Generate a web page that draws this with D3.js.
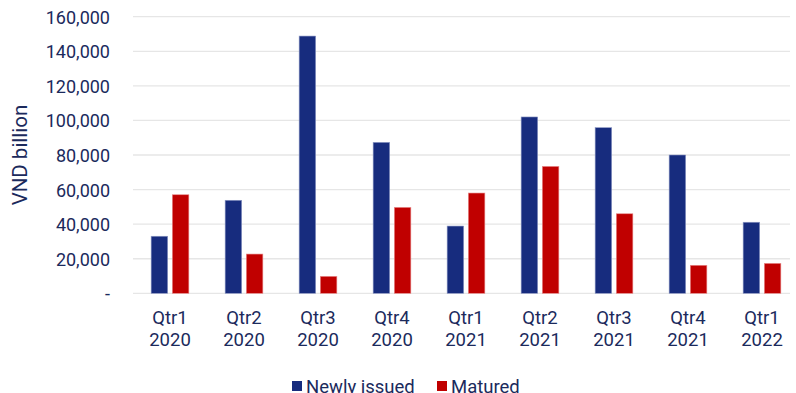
<!DOCTYPE html>
<html>
<head>
<meta charset="utf-8">
<script src="https://cdn.jsdelivr.net/npm/d3@7/dist/d3.min.js"></script>
<style>
  html, body { margin: 0; padding: 0; background: #fff; }
  svg { display: block; font-family: Roboto, "Noto Sans", sans-serif; }
</style>
</head>
<body>
<div id="chart"></div>
<script>
// Quarterly bond issuance vs. maturities (VND billion)
const quarters = ["Qtr1", "Qtr2", "Qtr3", "Qtr4", "Qtr1", "Qtr2", "Qtr3", "Qtr4", "Qtr1"];
const years    = ["2020", "2020", "2020", "2020", "2021", "2021", "2021", "2021", "2022"];
const newlyIssued = [33000, 53800, 148800, 87300, 38900, 102000, 95800, 80000, 41100];
const matured     = [57000, 22700, 9800, 49700, 58000, 73400, 46000, 16200, 17300];
const seriesNames = ["Newly issued", "Matured"];
const seriesColors = ["#172C7E", "#C00000"];
const yTicks = [0, 20000, 40000, 60000, 80000, 100000, 120000, 140000, 160000];

const W = 796, H = 393;
const margin = { left: 133, right: -3, top: 16.7, bottom: 99.7 };
const textColor = "#1B2A5C";

const svg = d3.select("#chart").append("svg")
  .attr("width", W).attr("height", H);

const categories = quarters.map((q, i) => i);

const x = d3.scaleBand()
  .domain(categories)
  .range([margin.left, W - margin.right])
  .paddingInner(0).paddingOuter(0);

const inner = d3.scaleBand()
  .domain([0, 1])
  .range([0, 37.7])
  .paddingInner(0.22);

const y = d3.scaleLinear()
  .domain([0, 160000])
  .range([H - margin.bottom, margin.top]);

// Horizontal gridlines
svg.append("g")
  .selectAll("line")
  .data(yTicks)
  .join("line")
  .attr("x1", margin.left)
  .attr("x2", 790)
  .attr("y1", d => y(d))
  .attr("y2", d => y(d))
  .attr("stroke", "#E6E6E6")
  .attr("stroke-width", 1.3);

// Y axis labels
const yAxis = d3.axisLeft(y)
  .tickValues(yTicks)
  .tickSize(0)
  .tickPadding(0)
  .tickFormat(d => d === 0 ? "-" : d3.format(",")(d));

svg.append("g")
  .attr("transform", `translate(110,0)`)
  .call(yAxis)
  .call(g => g.select(".domain").remove())
  .call(g => g.selectAll("text")
    .attr("fill", textColor)
    .attr("font-size", 18)
    .attr("font-family", "Roboto, sans-serif")
    .attr("dy", "0.36em"));

// Y axis title
svg.append("text")
  .attr("transform", `translate(27,155) rotate(-90)`)
  .attr("text-anchor", "middle")
  .attr("fill", textColor)
  .attr("font-size", 20.5)
  .text("VND billion");

// Bars
const series = [newlyIssued, matured];
const groups = svg.append("g");
series.forEach((vals, s) => {
  groups.append("g")
    .selectAll("rect")
    .data(vals)
    .join("rect")
    .attr("x", (d, i) => x(i) + x.bandwidth() / 2 - 18.85 + inner(s))
    .attr("width", inner.bandwidth())
    .attr("y", d => y(d))
    .attr("height", d => y(0) - y(d))
    .attr("fill", seriesColors[s])
    .attr("stroke", s === 0 ? "#8C97C4" : "#E88A8A")
    .attr("stroke-width", 0.6);
});

// X axis category labels (two lines)
const xLabels = svg.append("g");
categories.forEach(i => {
  const cx = x(i) + x.bandwidth() / 2;
  const t = xLabels.append("text")
    .attr("text-anchor", "middle")
    .attr("fill", textColor)
    .attr("font-size", 18.5);
  t.append("tspan").attr("x", cx).attr("y", 323.5).text(quarters[i]);
  t.append("tspan").attr("x", cx).attr("y", 345.5).text(years[i]);
});

// Legend
const legendItems = [
  { name: seriesNames[0], color: seriesColors[0], x: 292 },
  { name: seriesNames[1], color: seriesColors[1], x: 437 }
];
const legend = svg.append("g");
legendItems.forEach(it => {
  legend.append("rect")
    .attr("x", it.x).attr("y", 381)
    .attr("width", 10).attr("height", 10)
    .attr("fill", it.color);
  legend.append("text")
    .attr("x", it.x + 14).attr("y", 393)
    .attr("fill", textColor)
    .attr("font-size", 18.5)
    .text(it.name);
});
</script>
</body>
</html>
